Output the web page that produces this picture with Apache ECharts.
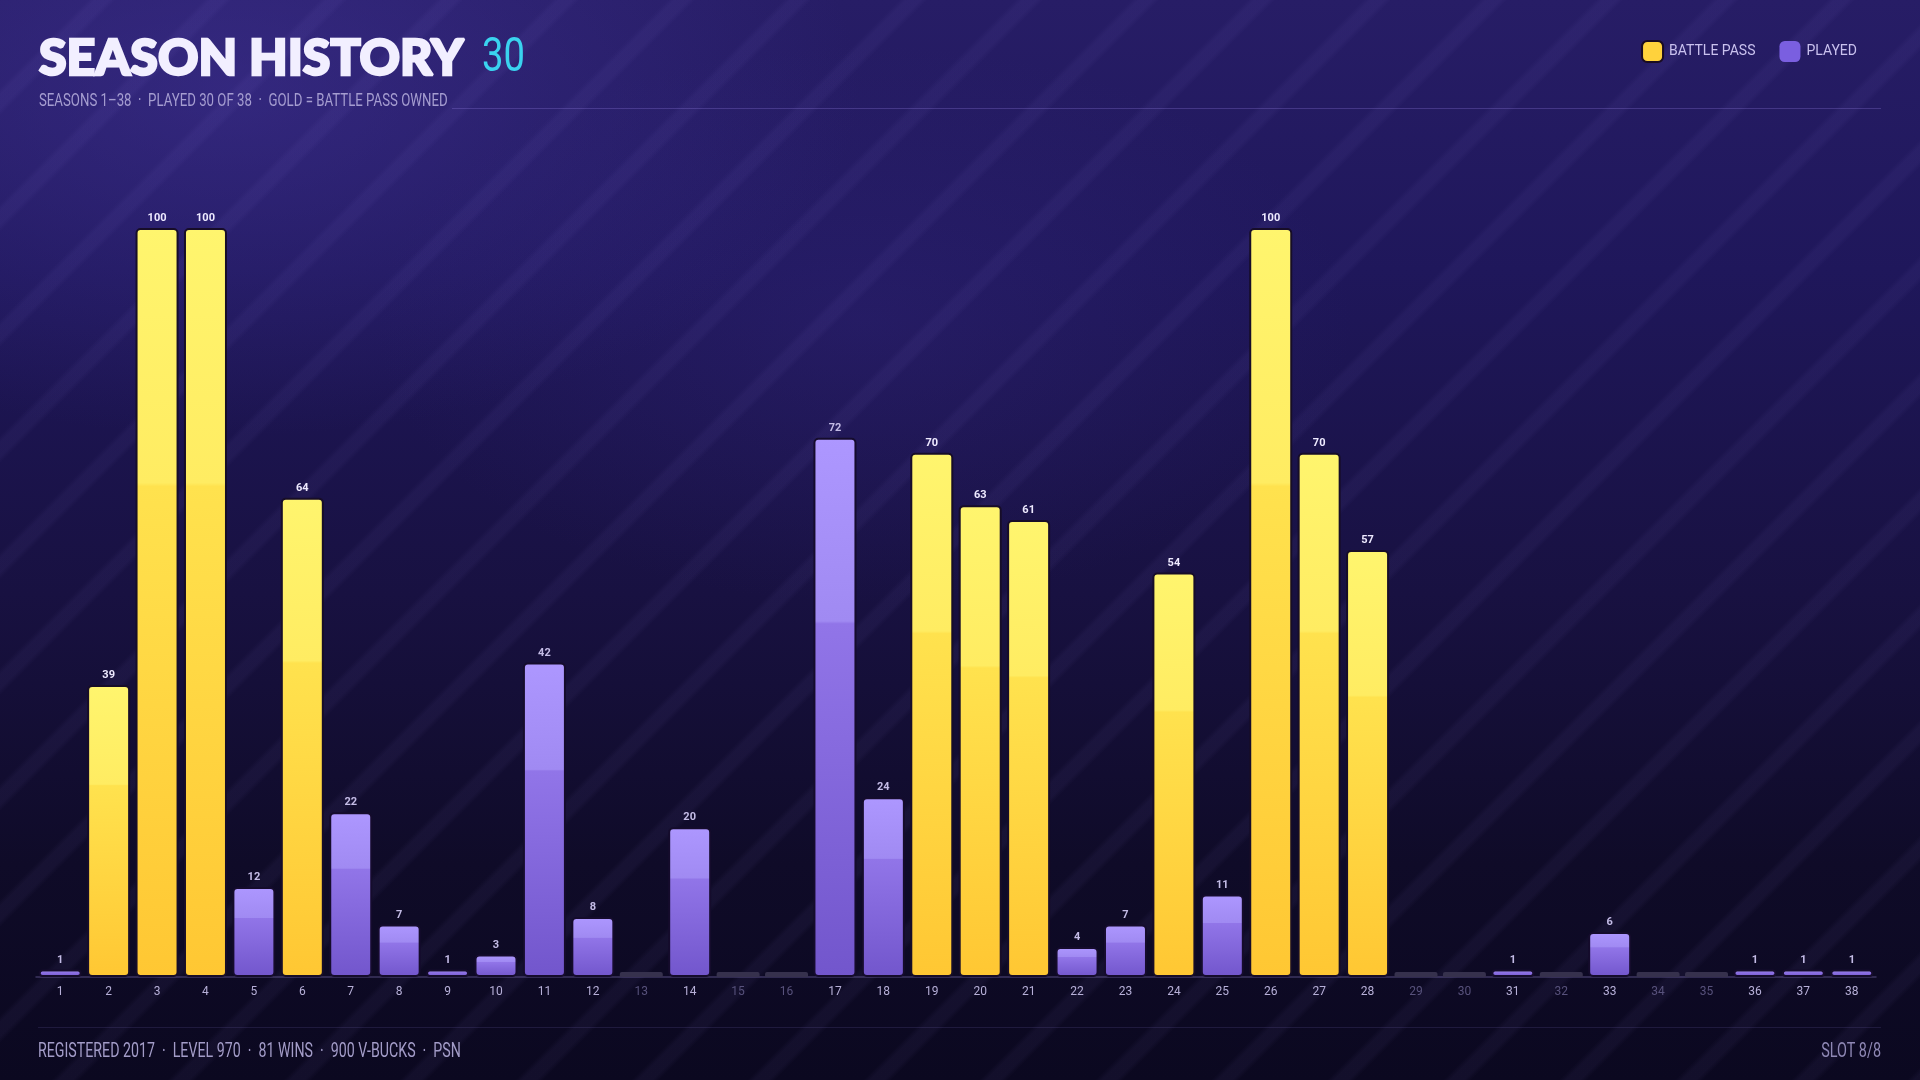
<!DOCTYPE html>
<html>
<head>
<meta charset="utf-8">
<script src="https://cdn.jsdelivr.net/npm/echarts@6/dist/echarts.min.js"></script>
<style>
html,body{margin:0;padding:0;width:1920px;height:1080px;overflow:hidden;}
body{
  background:
    repeating-linear-gradient(135deg, rgba(170,150,255,0) 0px, rgba(170,150,255,0) 62px, rgba(170,150,255,0.05) 67px, rgba(170,150,255,0.05) 77px, rgba(170,150,255,0) 82px),
    radial-gradient(ellipse 900px 500px at 12% 8%, rgba(70,55,160,0.45), rgba(70,55,160,0) 70%),
    radial-gradient(ellipse 700px 400px at 45% 30%, rgba(60,45,140,0.25), rgba(60,45,140,0) 70%),
    linear-gradient(180deg, #271d66 0%, #1f175b 25%, #181141 55%, #0f0b28 80%, #0b0820 100%);
}
#c{width:1920px;height:1080px;}
</style>
</head>
<body>
<div id="c"></div>
<script>
// ---- data ----
const seasons = ['1','2','3','4','5','6','7','8','9','10','11','12','13','14','15','16','17','18','19','20','21','22','23','24','25','26','27','28','29','30','31','32','33','34','35','36','37','38'];
const levels = [1,39,100,100,12,64,22,7,1,3,42,8,null,20,null,null,72,24,70,63,61,4,7,54,11,100,70,57,null,null,1,null,6,null,null,1,1,1];
const battlePass = [false,true,true,true,false,true,false,false,false,false,false,false,false,false,false,false,false,false,true,true,true,false,false,true,false,true,true,true,false,false,false,false,false,false,false,false,false,false];
const titleText = 'SEASON HISTORY';
const titleCount = '30';
const subtitleText = 'SEASONS 1\u201338  \u00b7  PLAYED 30 OF 38  \u00b7  GOLD = BATTLE PASS OWNED';
const footerText = 'REGISTERED 2017  \u00b7  LEVEL 970  \u00b7  81 WINS  \u00b7  900 V-BUCKS  \u00b7  PSN';
const slotText = 'SLOT 8/8';

// ---- derived series ----
const goldData = levels.map((v,i) => (v !== null && battlePass[i]) ? v : '-');
const playedData = levels.map((v,i) => (v !== null && !battlePass[i]) ? v : '-');
const emptyData = levels.map(v => v === null ? 0 : '-');

const COND = 'Roboto, "Noto Sans", sans-serif';

const goldGrad = new echarts.graphic.LinearGradient(0,0,0,1,[
  {offset:0,color:'#fff56e'},{offset:0.34,color:'#ffec62'},
  {offset:0.345,color:'#ffe24e'},{offset:1,color:'#ffc733'}]);
const purpleGrad = new echarts.graphic.LinearGradient(0,0,0,1,[
  {offset:0,color:'#ad97ff'},{offset:0.34,color:'#a08af2'},
  {offset:0.345,color:'#9175e8'},{offset:1,color:'#7256cc'}]);

const chart = echarts.init(document.getElementById('c'), null, {renderer:'canvas'});
chart.setOption({
  backgroundColor:'transparent',
  animation:false,
  grid:{left:36,right:44,top:228,bottom:103,containLabel:false},
  legend:{
    right:58, top:35, itemWidth:21, itemHeight:21, itemGap:24,
    icon:'roundRect',
    textStyle:{color:'#c9c1ee',fontFamily:COND,fontSize:14,padding:[0,0,0,1]},
    data:[
      {name:'BATTLE PASS',itemStyle:{color:'#ffd23c',borderColor:'#1a0c22',borderWidth:2}},
      {name:'PLAYED',itemStyle:{color:'#7a5fe0',borderWidth:0}}
    ]
  },
  xAxis:{
    type:'category', data:seasons,
    axisLine:{show:true,lineStyle:{color:'rgba(150,135,210,0.35)',width:1.5}},
    axisTick:{show:false},
    axisLabel:{
      margin:9, fontFamily:COND, fontSize:12,
      color:function(v,i){ return levels[i] === null ? '#58527c' : '#b7b0d8'; }
    }
  },
  yAxis:{type:'value',min:0,max:100,show:false,splitLine:{show:false}},
  series:[
    {
      name:'BATTLE PASS', type:'bar', data:goldData, barWidth:43, barGap:'-100%',
      itemStyle:{color:goldGrad,borderColor:'#170d28',borderWidth:2,borderRadius:4},
      label:{show:true,position:'top',distance:4,color:'#eeeaff',fontFamily:COND,fontSize:11,fontWeight:'bold'}
    },
    {
      name:'PLAYED', type:'bar', data:playedData, barWidth:43, barGap:'-100%',
      itemStyle:{color:purpleGrad,borderColor:'#150c2c',borderWidth:2,borderRadius:4},
      label:{show:true,position:'top',distance:4,color:'#c4bce6',fontFamily:COND,fontSize:11,fontWeight:'bold'}
    },
    {
      name:'UNPLAYED', type:'bar', data:emptyData, barWidth:43, barGap:'-100%', barMinHeight:5,
      itemStyle:{color:'#36314d',borderRadius:[2,2,0,0]},
      label:{show:false}
    }
  ],
  graphic:[
    {type:'text',x:39,y:34,style:{text:titleText,fill:'#f2efff',stroke:'#f2efff',lineWidth:2.5,font:'900 50px Lato, "Open Sans", sans-serif'}},
    {type:'text',x:482,y:34,scaleX:0.78,style:{text:titleCount,fill:'#3ad3ef',font:'49px '+COND}},
    {type:'text',x:39,y:92,scaleX:0.735,style:{text:subtitleText,fill:'#a59dd0',font:'18px '+COND}},
    {type:'rect',shape:{x:452,y:108,width:1429,height:1},style:{fill:'rgba(150,130,230,0.28)'}},
    {type:'rect',shape:{x:38,y:1027,width:1843,height:1},style:{fill:'rgba(120,105,190,0.18)'}},
    {type:'text',x:38,y:1042,scaleX:0.71,style:{text:footerText,fill:'#a39cc8',font:'20px '+COND}},
    {type:'text',x:1881,y:1042,scaleX:0.72,style:{text:slotText,fill:'#8f88b5',font:'20px '+COND,align:'right'}}
  ]
});
</script>
</body>
</html>
